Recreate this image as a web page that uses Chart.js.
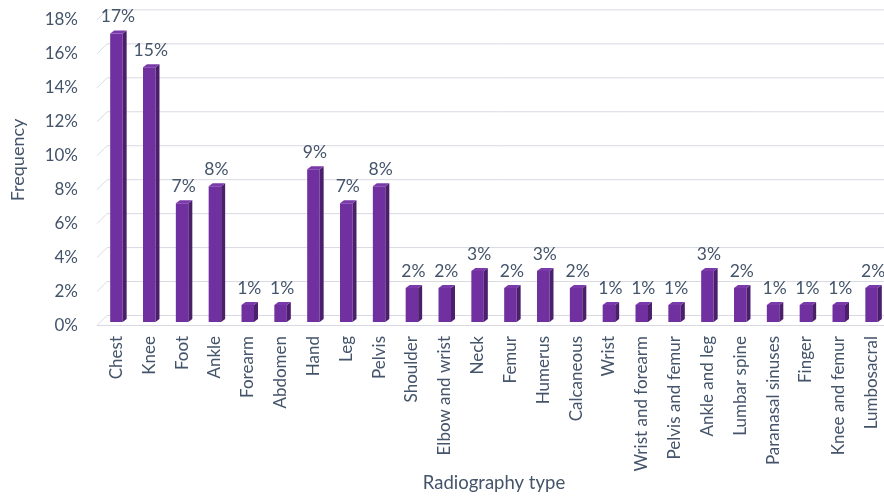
<!DOCTYPE html>
<html>
<head>
<meta charset="utf-8">
<script src="https://cdn.jsdelivr.net/npm/chart.js@4"></script>
<style>
  html, body { margin: 0; padding: 0; background: #ffffff; overflow: hidden; }
  #wrap { width: 888px; height: 496px; position: relative; }
</style>
</head>
<body>
<div id="wrap"><canvas id="chart"></canvas></div>
<script>
// data
const categories = [
  "Chest", "Knee", "Foot", "Ankle", "Forearm", "Abdomen", "Hand", "Leg", "Pelvis",
  "Shoulder", "Elbow and wrist", "Neck", "Femur", "Humerus", "Calcaneous", "Wrist",
  "Wrist and forearm", "Pelvis and femur", "Ankle and leg", "Lumbar spine",
  "Paranasal sinuses", "Finger", "Knee and femur", "Lumbosacral"
];
const frequency = [17, 15, 7, 8, 1, 1, 9, 7, 8, 2, 2, 3, 2, 3, 2, 1, 1, 1, 3, 2, 1, 1, 1, 2];
const yMax = 18;
const yStep = 2;

const textColor = "#44546A";
const gridColor = "#d9d9e3";
const frontColor = "#7030A0";
const sideColor = "#4b1f6c";
const topColor = "#7b3aaa";
const fontFamily = "Lato, 'Open Sans', sans-serif";

// 3d look: wall/floor lines and bar side/top faces
const depthX = 10;   // wall depth
const backDy = -6.5; // back plane offset from bar plane
const frontDy = 3.5; // front edge offset from bar plane
const sideW = 4;
const sideH = 3;

const threeD = {
  id: "threeD",
  beforeDatasetsDraw(chart) {
    const { ctx, chartArea, scales } = chart;
    const y = scales.y;
    const x0 = chartArea.left - 3;
    const xEnd = chart.width;
    ctx.save();
    ctx.strokeStyle = gridColor;
    ctx.lineWidth = 1;
    y.ticks.forEach((t) => {
      const py = y.getPixelForValue(t.value);
      ctx.beginPath();
      ctx.moveTo(x0, py + frontDy);
      ctx.lineTo(x0 + depthX, py + backDy);
      ctx.lineTo(xEnd, py + backDy);
      ctx.stroke();
    });
    // front edge of floor
    const p0 = y.getPixelForValue(0);
    ctx.beginPath();
    ctx.moveTo(x0, p0 + frontDy);
    ctx.lineTo(xEnd, p0 + frontDy);
    ctx.stroke();
    ctx.restore();
  },
  afterDatasetsDraw(chart) {
    const { ctx } = chart;
    const meta = chart.getDatasetMeta(0);
    ctx.save();
    meta.data.forEach((bar, i) => {
      const left = bar.x - bar.width / 2;
      const right = bar.x + bar.width / 2;
      const top = bar.y;
      const bottom = bar.base;
      // side face
      ctx.fillStyle = sideColor;
      ctx.beginPath();
      ctx.moveTo(right, top);
      ctx.lineTo(right + sideW, top - sideH);
      ctx.lineTo(right + sideW, bottom - sideH);
      ctx.lineTo(right, bottom);
      ctx.closePath();
      ctx.fill();
      // top face
      ctx.fillStyle = topColor;
      ctx.beginPath();
      ctx.moveTo(left, top);
      ctx.lineTo(left + sideW, top - sideH);
      ctx.lineTo(right + sideW, top - sideH);
      ctx.lineTo(right, top);
      ctx.closePath();
      ctx.fill();
      // value label
      ctx.fillStyle = textColor;
      ctx.font = "17.5px " + fontFamily;
      ctx.textAlign = "center";
      ctx.textBaseline = "alphabetic";
      ctx.fillText(frequency[i] + "%", bar.x + 1.5, top - 11);
    });
    ctx.restore();
  },
  afterDraw(chart) {
    const { ctx } = chart;
    ctx.save();
    ctx.fillStyle = textColor;
    ctx.font = "18px " + fontFamily;
    ctx.textAlign = "center";
    ctx.textBaseline = "middle";
    ctx.translate(18, 160);
    ctx.rotate(-Math.PI / 2);
    ctx.fillText("Frequency", 0, 0);
    ctx.restore();
  },
};

new Chart(document.getElementById("chart"), {
  type: "bar",
  data: {
    labels: categories,
    datasets: [
      {
        label: "Frequency",
        data: frequency,
        backgroundColor: frontColor,
        borderWidth: 0,
        barPercentage: 0.38,
        categoryPercentage: 1,
      },
    ],
  },
  options: {
    responsive: true,
    maintainAspectRatio: false,
    animation: false,
    devicePixelRatio: 1,
    layout: { padding: { top: 16.4, left: 0, right: 0, bottom: 0 } },
    plugins: {
      legend: { display: false },
      tooltip: { enabled: false },
    },
    scales: {
      x: {
        grid: { display: false, drawTicks: false },
        border: { display: false },
        ticks: {
          color: textColor,
          font: { family: fontFamily, size: 17 },
          minRotation: 90,
          maxRotation: 90,
          autoSkip: false,
          padding: 14,
        },
        title: {
          display: true,
          text: "Radiography type",
          color: textColor,
          font: { family: fontFamily, size: 18.5 },
          padding: { top: 0, bottom: 2 },
        },
        afterFit(scale) {
          scale.height = 174;
          scale.paddingLeft = 0;
          scale.paddingRight = 0;
        },
      },
      y: {
        min: 0,
        max: yMax,
        grid: { display: false, drawTicks: false },
        border: { display: false },
        ticks: {
          stepSize: yStep,
          color: textColor,
          font: { family: fontFamily, size: 17 },
          padding: 22,
          labelOffset: 3.5,
          callback: (v) => v + "%",
        },
        afterFit(scale) {
          scale.width = 100;
          scale.paddingTop = 0;
          scale.paddingBottom = 0;
        },
      },
    },
  },
  plugins: [threeD],
});
</script>
</body>
</html>
